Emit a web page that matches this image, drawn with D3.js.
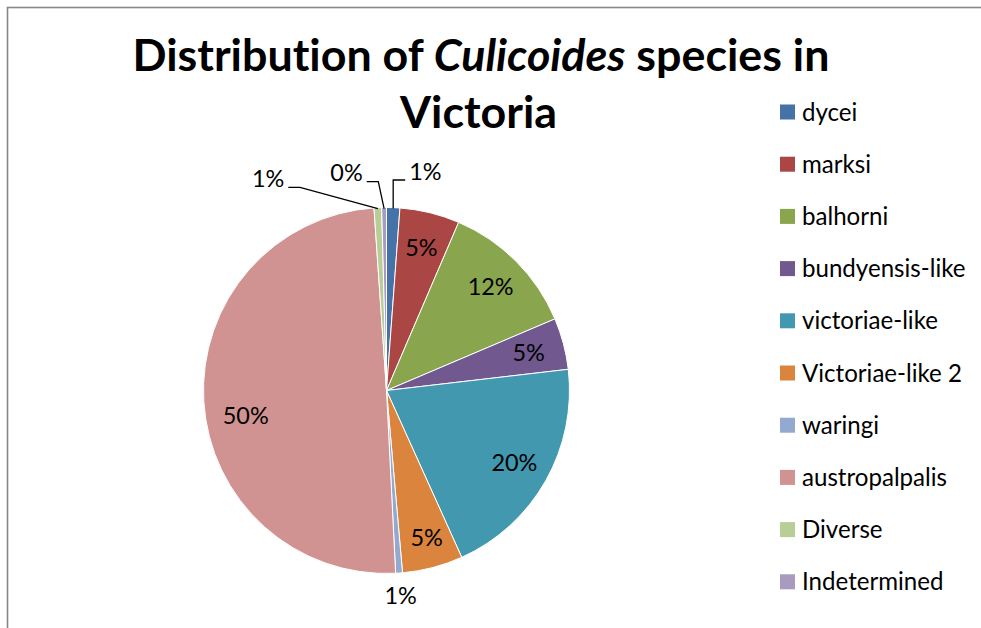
<!DOCTYPE html>
<html>
<head>
<meta charset="utf-8">
<script src="https://cdn.jsdelivr.net/npm/d3@7"></script>
<style>
  html, body { margin: 0; padding: 0; background: #ffffff; }
  svg { display: block; }
  text { font-family: Lato, "Open Sans", sans-serif; fill: #000; font-variant-ligatures: none; font-feature-settings: "liga" 0, "clig" 0; }
</style>
</head>
<body>
<svg id="chart" width="981" height="628"></svg>
<script>
// ---------------- data ----------------
const categories = ["dycei", "marksi", "balhorni", "bundyensis-like", "victoriae-like",
                    "Victoriae-like 2", "waringi", "austropalpalis", "Diverse", "Indetermined"];
const shares = [1.17, 5.28, 12.15, 4.55, 20.1, 5.35, 0.6, 49.7, 0.67, 0.42];
const colors = ["#4572A7", "#AA4643", "#89A54E", "#71588F", "#4198AF",
                "#DB843D", "#93A9CF", "#D19392", "#B9CD96", "#A99BBD"];
const titleParts = [["Distribution of ", "normal"], ["Culicoides", "italic"], [" species in", "normal"]];
const titleLine2 = "Victoria";

// ---------------- layout ----------------
const W = 981, H = 628;
const cx = 386.5, cy = 390.5, R = 183;
const labelR = 147;
const outsideLabels = new Set(["dycei", "Diverse", "Indetermined", "waringi"]);

const svg = d3.select("#chart");

// frame
svg.append("rect").attr("x", 7.5).attr("y", 7.5).attr("width", W).attr("height", H)
  .attr("fill", "#fff").attr("stroke", "#888").attr("stroke-width", 1.6);

function fit(sel, target) {
  const fs = parseFloat(sel.attr("font-size"));
  const w = sel.node().getComputedTextLength();
  sel.attr("font-size", (fs * target / w).toFixed(2));
}

// title
const t1 = svg.append("text").attr("x", 481).attr("y", 70.5)
  .attr("text-anchor", "middle").attr("font-weight", "bold").attr("font-size", 40);
titleParts.forEach(p => t1.append("tspan").attr("font-style", p[1]).text(p[0]));
fit(t1, 697);
const t2 = svg.append("text").attr("x", 478.5).attr("y", 127.5)
  .attr("text-anchor", "middle").attr("font-weight", "bold")
  .attr("font-size", t1.attr("font-size")).text(titleLine2);

// pie
const data = categories.map((c, i) => ({ name: c, value: shares[i], color: colors[i] }));
const total = d3.sum(shares);
const pie = d3.pie().value(d => d.value).sort(null);
const arcs = pie(data);
const arc = d3.arc().innerRadius(0).outerRadius(R);
const labelArc = d3.arc().innerRadius(labelR).outerRadius(labelR);
const fmt = d3.format(".0%");

const g = svg.append("g").attr("transform", `translate(${cx},${cy})`);
g.selectAll("path.slice").data(arcs).join("path").attr("class", "slice")
  .attr("d", arc).attr("fill", d => d.data.color)
  .attr("stroke", "#fff").attr("stroke-width", 1).attr("stroke-linejoin", "round");

// label font size
const probe = svg.append("text").attr("font-size", 24).text("12%");
fit(probe, 46);
const lfs = +probe.attr("font-size");
probe.remove();

// inside labels
const labelNudge = { "austropalpalis": [6, 16], "Victoriae-like 2": [3, 5] };
g.selectAll("text.in").data(arcs.filter(d => !outsideLabels.has(d.data.name))).join("text")
  .attr("class", "in")
  .attr("transform", d => {
    const c = labelArc.centroid(d);
    const n = labelNudge[d.data.name] || [0, 0];
    return `translate(${c[0] + n[0]},${c[1] + n[1]})`;
  })
  .attr("text-anchor", "middle").attr("dy", "0.36em").attr("font-size", lfs)
  .text(d => fmt(d.data.value / total));

// outside labels with leader lines
function edgePoint(d, r) {
  const a = (d.startAngle + d.endAngle) / 2;
  return [Math.sin(a) * r, -Math.cos(a) * r];
}
const leader = {
  "dycei":        { elbow: null, lineY: -210.5, dx: 12, anchor: "start", gap: 4 },
  "Indetermined": { elbowX: -8.2, lineY: -208.8, dx: -11.6, anchor: "end", gap: 4 },
  "Diverse":      { elbowX: -86.5, lineY: -203.2, dx: -11.7, anchor: "end", gap: 4 }
};
arcs.filter(d => leader[d.data.name]).forEach(d => {
  const L = leader[d.data.name];
  const s = edgePoint(d, R - 1);
  const ex = L.elbowX !== undefined ? L.elbowX : s[0];
  const pts = [s, [ex, L.lineY], [ex + L.dx, L.lineY]];
  g.append("path").attr("d", d3.line()(pts)).attr("fill", "none")
    .attr("stroke", "#000").attr("stroke-width", 1.3);
  g.append("text").attr("x", ex + L.dx + (L.anchor === "start" ? L.gap : -L.gap))
    .attr("y", L.lineY - 0.5).attr("text-anchor", L.anchor).attr("font-size", lfs)
    .text(fmt(d.data.value / total));
});
arcs.filter(d => d.data.name === "waringi").forEach(d => {
  const p = edgePoint(d, R + 22);
  g.append("text").attr("x", p[0]).attr("y", p[1] + 9).attr("text-anchor", "middle")
    .attr("font-size", lfs).text(fmt(d.data.value / total));
});

// legend
const leg = svg.append("g").attr("transform", "translate(780,112)");
const rows = leg.selectAll("g").data(data).join("g")
  .attr("transform", (d, i) => `translate(0,${i * 52.2})`);
rows.append("rect").attr("x", 0).attr("y", -7.5).attr("width", 15).attr("height", 15)
  .attr("fill", d => d.color);
const ltexts = rows.append("text").attr("x", 22).attr("dy", "0.36em").attr("font-size", 22)
  .text(d => d.name);
const longest = ltexts.filter(d => d.name === "Victoriae-like 2");
fit(longest, 160);
ltexts.attr("font-size", longest.attr("font-size"));
</script>
</body>
</html>
